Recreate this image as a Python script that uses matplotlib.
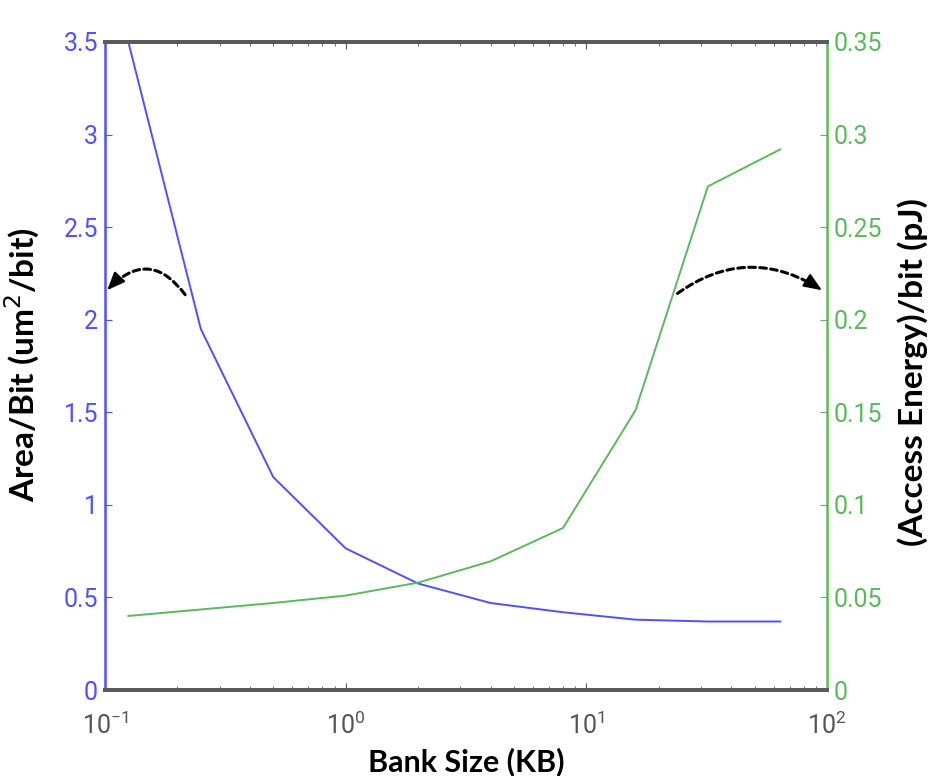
import matplotlib
matplotlib.use("Agg")
import matplotlib.pyplot as plt

# bank sizes in KB
bank_kb = [0.125, 0.25, 0.5, 1, 2, 4, 8, 16, 32, 64]
area_per_bit = [3.5, 1.95, 1.15, 0.765, 0.575, 0.47, 0.42, 0.38, 0.37, 0.37]
energy_per_bit = [0.040, 0.0435, 0.047, 0.051, 0.058, 0.0695, 0.0875, 0.151, 0.272, 0.292]

blue = '#5050ff'
green = '#5cb85c'
tick_font = ['Roboto', 'DejaVu Sans']
label_font = ['Lato', 'DejaVu Sans']

fig = plt.figure(figsize=(9.32, 7.76), dpi=100)
ax = fig.add_axes([0.1127, 0.1108, 0.7746, 0.8351])
ax2 = ax.twinx()

ax.plot(bank_kb, area_per_bit, color=blue, lw=1.4)
ax2.plot(bank_kb, energy_per_bit, color=green, lw=1.4)

ax.set_xscale('log')
ax.set_xlim(0.1, 100)
ax.set_ylim(0, 3.5)
ax2.set_ylim(0, 0.35)
ax.set_yticks([0, 0.5, 1, 1.5, 2, 2.5, 3, 3.5])
ax.set_yticklabels(['0', '0.5', '1', '1.5', '2', '2.5', '3', '3.5'])
ax2.set_yticks([0, 0.05, 0.1, 0.15, 0.2, 0.25, 0.3, 0.35])
ax2.set_yticklabels(['0', '0.05', '0.1', '0.15', '0.2', '0.25', '0.3', '0.35'])

for a in (ax, ax2):
    a.spines['top'].set_color('#5a5a5a')
    a.spines['top'].set_linewidth(2.8)
    a.spines['bottom'].set_color('#5a5a5a')
    a.spines['bottom'].set_linewidth(2.8)
ax.spines['left'].set_color(blue)
ax.spines['left'].set_linewidth(1.8)
ax2.spines['left'].set_visible(False)
ax2.spines['right'].set_color(green)
ax2.spines['right'].set_linewidth(1.8)
ax.spines['right'].set_visible(False)

ax.tick_params(axis='x', which='both', direction='in', top=True, colors='#555555', labelsize=18, pad=16)
ax.tick_params(axis='x', which='major', length=5)
ax.tick_params(axis='x', which='minor', length=3)
ax.tick_params(axis='y', direction='in', colors=blue, labelsize=18, length=5, pad=5)
ax2.tick_params(axis='y', direction='in', colors=green, labelsize=18, length=5, pad=5)
for lab in ax.get_yticklabels() + ax2.get_yticklabels() + ax.get_xticklabels():
    lab.set_family(tick_font)

ax.set_xlabel('Bank Size (KB)', fontsize=22, fontweight='bold', family=label_font)
ax.set_ylabel('Area/Bit (um$^2$/bit)', fontsize=24, fontweight='bold', family=label_font)
ax2.set_ylabel('(Access Energy)/bit (pJ)', fontsize=24, fontweight='bold', family=label_font)
ax.xaxis.set_label_coords(0.5, -0.088)
ax.yaxis.set_label_coords(-0.087, 0.502)
ax2.yaxis.set_label_coords(1.098, 0.491)

# curved dashed arrows pointing to each axis: dashed body + solid head
arrows = [((0.003, 0.617), (0.111, 0.610), 0.6, 48),
          ((0.993, 0.617), (0.793, 0.612), -0.34, 96)]
for tip, tail, rad, head_shrink in arrows:
    ax.annotate('', xy=tip, xytext=tail, xycoords='axes fraction',
                arrowprops=dict(arrowstyle='-', color='black', lw=2.2, ls=(0, (2.2, 1.4)),
                                connectionstyle='arc3,rad=%s' % rad, shrinkA=0, shrinkB=6))
    ax.annotate('', xy=tip, xytext=tail, xycoords='axes fraction',
                arrowprops=dict(arrowstyle='-|>,head_length=1.1,head_width=0.45', color='black',
                                lw=1.5, connectionstyle='arc3,rad=%s' % rad,
                                shrinkA=head_shrink, shrinkB=0))

fig.savefig('out.png', dpi=100)
